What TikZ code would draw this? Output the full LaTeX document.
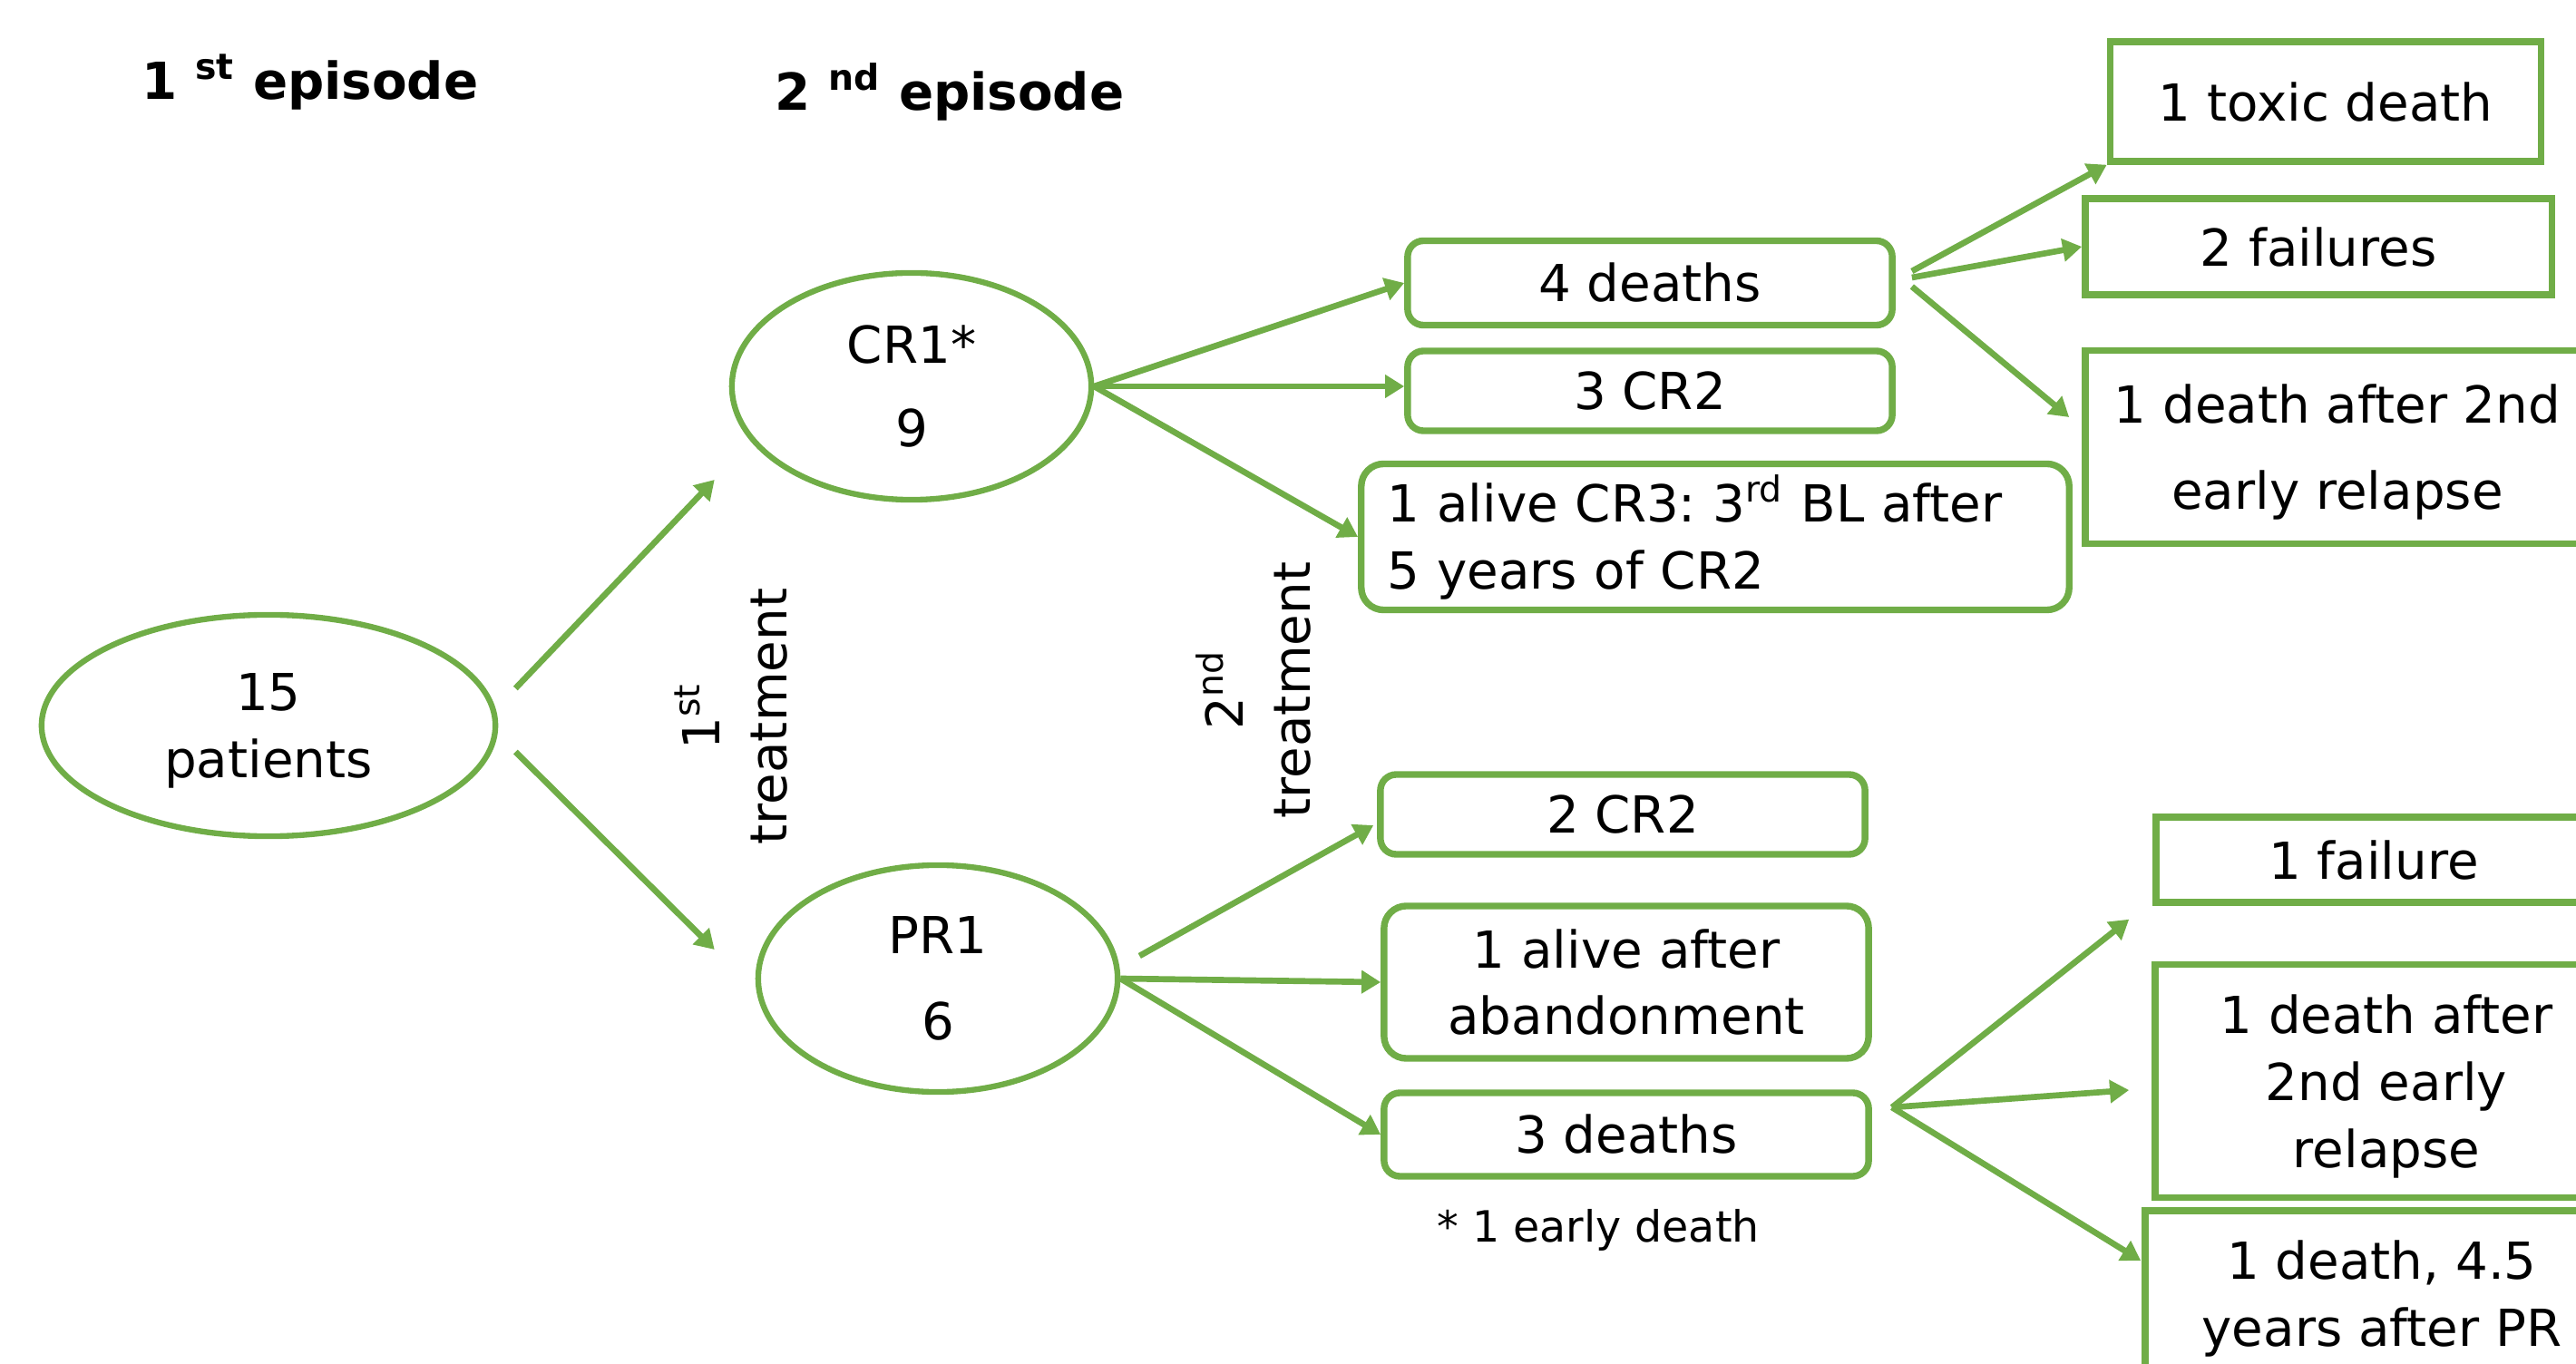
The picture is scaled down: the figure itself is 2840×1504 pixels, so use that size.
\documentclass[tikz,border=0pt]{standalone}
\usepackage{fontspec}
\setmainfont{DejaVu Sans}
\usetikzlibrary{arrows.meta, shapes.geometric}
\definecolor{grn}{HTML}{70AD47}
\frenchspacing

\begin{document}
\begin{tikzpicture}[
                x=0.01cm, y=-0.01cm,
                every node/.style={font=\fontsize{16}{21}\selectfont, align=center, inner sep=0pt},
                oval/.style={draw=grn, ellipse, line width=1.8pt, minimum width=3.96cm, minimum height=2.5cm},
                rbox/.style={draw=grn, rectangle, rounded corners=5pt, line width=2.1pt, minimum width=5.34cm},
                sbox/.style={draw=grn, rectangle, line width=2.1pt, text depth=0pt},
                arrow/.style={-{Triangle[length=6pt, width=7pt]}, line width=1.9pt, grn}]

            \clip (0,0) rectangle (2840,1504);

            % Titres
            \node[font=\fontsize{16}{20}\selectfont\bfseries] (ep1) at (342,91) {1 \textsuperscript{st} episode};
            \node[font=\fontsize{16}{20}\selectfont\bfseries] (ep2) at (1047,101) {2 \textsuperscript{nd} episode};

            % 1er episode
            \node[oval, minimum width=5cm, minimum height=2.44cm, text depth=0pt] (pat) at (296,800) {15\\patients};
            \node[oval] (cr1) at (1005,426) {CR1*\\[5pt]9};
            \node[oval] (pr1) at (1034,1079) {PR1\\[6pt]6};

            \node[rotate=90] (tr1) at (806,790) {1\textsuperscript{st}\\treatment};
            \node[rotate=90] (tr2) at (1382,761) {2\textsuperscript{nd}\\treatment};

            % branche CR1
            \node[rbox, minimum height=0.93cm] (cr1d) at (1819,312) {4 deaths};
            \node[rbox, minimum height=0.88cm] (cr1c) at (1819,431) {3 CR2};
            \node[rbox, rounded corners=7pt, align=left, text width=7.22cm, inner xsep=0.29cm, minimum height=1.61cm] (cr1a) at (1891,592) {1 alive CR3: 3\textsuperscript{rd} BL after\\5 years of CR2};

            \node[sbox, minimum width=4.75cm, minimum height=1.32cm] (tox) at (2564,112) {1 toxic death};
            \node[sbox, minimum width=5.14cm, minimum height=1.06cm] (fl2) at (2556,272) {2 failures};
            \node[sbox, minimum width=5.56cm, minimum height=2.13cm] (dr2) at (2577,493) {1 death after 2nd\\[6pt]early relapse};

            % branche PR1
            \node[rbox, minimum height=0.88cm] (pr1c) at (1789,898) {2 CR2};
            \node[rbox, rounded corners=7pt, minimum height=1.68cm] (pr1a) at (1793,1083) {1 alive after\\abandonment};
            \node[rbox, minimum height=0.92cm] (pr1d) at (1793,1251) {3 deaths};
            \node[font=\fontsize{13.5}{16}\selectfont] (note) at (1762,1356) {* 1 early death};

            \node[sbox, minimum width=4.8cm, minimum height=0.94cm] (fl1) at (2617,948) {1 failure};
            \node[sbox, minimum width=5.1cm, minimum height=2.57cm] (dr1) at (2631,1192) {1 death after\\2nd early\\relapse};
            \node[sbox, minimum width=5.22cm, minimum height=1.82cm] (dpr) at (2626,1426) {1 death, 4.5\\years after PR};

            % Fleches
            \draw[arrow] ([shift={(19,-41)}]pat.east) -- ([shift={(-16,103)}]cr1.west);
            \draw[arrow] ([shift={(19,29)}]pat.east) -- ([shift={(-45,-32)}]pr1.west);

            \draw[arrow] (cr1.east) -- (cr1d.west);
            \draw[arrow] (cr1.east) -- (cr1.east -| cr1c.west);
            \draw[arrow] (cr1.east) -- (cr1a.west);
            \draw[arrow] ([shift={(18,-13)}]cr1d.east) -- (tox.south west);
            \draw[arrow] ([shift={(18,-6)}]cr1d.east) -- (fl2.west);
            \draw[arrow] ([shift={(18,4)}]cr1d.east) -- ([shift={(-14,-33)}]dr2.west);

            \draw[arrow] ([shift={(21,-25)}]pr1.east) -- ([shift={(-4,12)}]pr1c.west);
            \draw[arrow] (pr1.east) -- (pr1a.west);
            \draw[arrow] (pr1.east) -- (pr1d.west);
            \draw[arrow] ([shift={(22,-30)}]pr1d.east) -- ([shift={(-26,15)}]fl1.south west);
            \draw[arrow] ([shift={(22,-30)}]pr1d.east) -- ([shift={(-25,10)}]dr1.west);
            \draw[arrow] ([shift={(22,-30)}]pr1d.east) -- ([shift={(-1,-36)}]dpr.west);

        \end{tikzpicture}
\end{document}
